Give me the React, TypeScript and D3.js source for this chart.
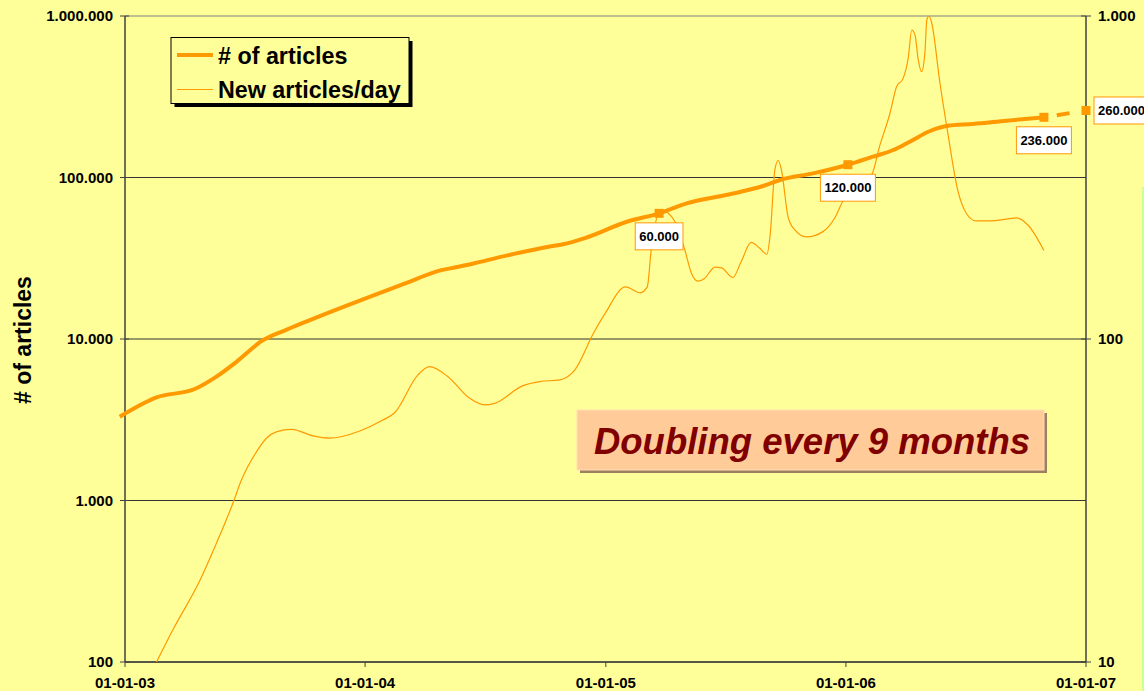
import React, { useEffect, useRef } from "react";
import * as d3 from "d3";

const WIDTH = 1144;
const HEIGHT = 691;

// # of articles (left axis)
const articleDates = [
  "2002-12-24", "2003-02-18", "2003-04-17", "2003-05-20", "2003-06-19", "2003-07-30",
  "2003-09-03", "2003-10-09", "2004-02-04", "2004-03-02", "2004-04-26", "2004-05-18",
  "2004-06-19", "2004-08-12", "2004-10-06", "2004-10-28", "2004-11-29", "2005-02-02",
  "2005-03-23", "2005-05-04", "2005-06-19", "2005-07-19", "2005-08-28", "2005-09-23",
  "2005-11-12", "2006-01-04", "2006-02-11", "2006-03-14", "2006-04-08", "2006-05-09",
  "2006-06-03", "2006-07-13", "2006-09-02", "2006-10-29",
];
const articleCounts = [
  3300, 4350, 4900, 5850, 7200, 9850,
  11400, 13100, 20100, 22100, 26700, 27800,
  29700, 33500, 37300, 38600, 42000, 53200,
  60000, 69200, 76000, 80500, 88600, 96500,
  106000, 120000, 134500, 148000, 166600, 194100,
  208400, 214400, 224700, 236000,
];

// dashed projection to year end
const projectionDates = ["2006-10-29", "2007-01-01"];
const projectionCounts = [236000, 260000];

// labelled milestones
const milestoneDates = ["2005-03-23", "2006-01-04", "2006-10-29", "2007-01-01"];
const milestoneCounts = [60000, 120000, 236000, 260000];

// new articles per day (right axis)
const newDates = [
  "2003-02-18", "2003-03-15", "2003-04-25", "2003-05-20", "2003-06-14", "2003-06-27",
  "2003-07-20", "2003-08-04", "2003-08-19", "2003-09-11", "2003-10-14", "2003-11-08",
  "2003-12-24", "2004-01-28", "2004-02-15", "2004-03-21", "2004-04-08", "2004-05-06",
  "2004-06-08", "2004-07-01", "2004-07-16", "2004-08-28", "2004-09-22", "2004-10-23",
  "2004-11-15", "2004-12-13", "2004-12-31", "2005-01-31", "2005-02-22", "2005-03-05",
  "2005-03-11", "2005-03-26", "2005-04-16", "2005-05-01", "2005-05-11", "2005-05-21",
  "2005-05-31", "2005-06-16", "2005-06-26", "2005-07-13", "2005-07-26", "2005-08-10",
  "2005-08-23", "2005-09-03", "2005-09-08", "2005-09-15", "2005-09-20", "2005-09-25",
  "2005-10-05", "2005-10-15", "2005-11-02", "2005-11-27", "2005-12-15", "2005-12-28",
  "2006-01-16", "2006-02-09", "2006-02-21", "2006-03-09", "2006-03-19", "2006-03-29",
  "2006-04-06", "2006-04-11", "2006-04-16", "2006-04-21", "2006-04-26", "2006-05-01",
  "2006-05-04", "2006-05-07", "2006-05-11", "2006-05-24", "2006-06-05", "2006-06-20",
  "2006-07-03", "2006-07-18", "2006-08-07", "2006-09-02", "2006-09-17", "2006-10-05",
  "2006-10-29",
];
const newPerDay = [
  10, 12.6, 17.9, 23.3, 31, 36.6,
  44.8, 49.3, 51.6, 52.5, 50.1, 49.3,
  51.9, 56.1, 59.1, 77.3, 82.1, 76.4,
  65.5, 62.5, 63.2, 71.7, 73.8, 74.7,
  80.2, 104, 120, 145, 139, 145,
  189, 251, 231, 189, 160, 151,
  154, 167, 166, 155, 174, 199,
  191, 183, 212, 334, 357, 334,
  239, 218, 207, 215, 237, 269,
  300, 322, 394, 500, 604, 641,
  748, 905, 873, 731, 672, 766,
  972, 1000, 960, 619, 433, 289,
  245, 232, 232, 235, 237, 225,
  188,
];

const leftTicks = [100, 1000, 10000, 100000, 1000000];
const rightTicks = [10, 100, 1000];
const xTickDates = ["2003-01-01", "2004-01-01", "2005-01-01", "2006-01-01", "2007-01-01"];

const ORANGE = "#FF9900";
const FONT = "'Liberation Sans', Arial, sans-serif";

export default function App() {
  const svgRef = useRef<SVGSVGElement | null>(null);

  useEffect(() => {
    document.body.style.margin = "0";
    if (!svgRef.current) return;
    const svg = d3.select(svgRef.current);
    svg.selectAll("*").remove();

    const parse = d3.timeParse("%Y-%m-%d");
    const plot = { left: 125, right: 1086, top: 16, bottom: 662 };

    const x = d3
      .scaleTime()
      .domain([parse("2003-01-01")!, parse("2007-01-01")!])
      .range([plot.left, plot.right]);
    const yLeft = d3.scaleLog().domain([100, 1e6]).range([plot.bottom, plot.top]);
    const yRight = d3.scaleLog().domain([10, 1000]).range([plot.bottom, plot.top]);

    const dotted = d3.formatLocale({
      decimal: ",",
      thousands: ".",
      grouping: [3],
      currency: ["", ""],
    }).format(",d");

    // background
    svg.append("rect").attr("width", WIDTH).attr("height", HEIGHT).attr("fill", "#FFFF99");
    svg.append("rect")
      .attr("x", 1142).attr("y", 187).attr("width", 2).attr("height", HEIGHT - 187)
      .attr("fill", "#CCFF99");

    svg.append("defs").append("clipPath").attr("id", "plot-clip")
      .append("rect")
      .attr("x", plot.left).attr("y", plot.top)
      .attr("width", plot.right - plot.left).attr("height", plot.bottom - plot.top);

    // gridlines
    svg.selectAll(".grid")
      .data(leftTicks)
      .enter()
      .append("line")
      .attr("x1", plot.left)
      .attr("x2", plot.right)
      .attr("y1", (d) => yLeft(d))
      .attr("y2", (d) => yLeft(d))
      .attr("stroke", (d) => (d === 1e6 ? "#808080" : "#333"))
      .attr("stroke-width", 1);

    // axes lines
    const axisColor = "#404040";
    svg.append("line")
      .attr("x1", plot.left).attr("x2", plot.left)
      .attr("y1", plot.top).attr("y2", plot.bottom)
      .attr("stroke", axisColor).attr("stroke-width", 1.5);
    svg.append("line")
      .attr("x1", plot.right).attr("x2", plot.right)
      .attr("y1", plot.top).attr("y2", plot.bottom)
      .attr("stroke", axisColor).attr("stroke-width", 1.5);
    svg.append("line")
      .attr("x1", plot.left).attr("x2", plot.right)
      .attr("y1", plot.bottom).attr("y2", plot.bottom)
      .attr("stroke", axisColor).attr("stroke-width", 1.5);

    // left ticks + labels
    leftTicks.forEach((t) => {
      const y = yLeft(t);
      svg.append("line")
        .attr("x1", plot.left - 5).attr("x2", plot.left + 4)
        .attr("y1", y).attr("y2", y)
        .attr("stroke", axisColor).attr("stroke-width", 1);
      svg.append("text")
        .attr("x", 113).attr("y", y)
        .attr("dy", "0.35em")
        .attr("text-anchor", "end")
        .style("font-family", FONT).style("font-size", "15px").style("font-weight", "bold")
        .text(dotted(t));
    });

    // right ticks + labels
    rightTicks.forEach((t) => {
      const y = yRight(t);
      svg.append("line")
        .attr("x1", plot.right - 5).attr("x2", plot.right + 5)
        .attr("y1", y).attr("y2", y)
        .attr("stroke", axisColor).attr("stroke-width", 1);
      svg.append("text")
        .attr("x", 1098).attr("y", y)
        .attr("dy", "0.35em")
        .attr("text-anchor", "start")
        .style("font-family", FONT).style("font-size", "15px").style("font-weight", "bold")
        .text(dotted(t));
    });

    // x ticks + labels
    const fmtX = d3.timeFormat("%d-%m-%y");
    xTickDates.map((s) => parse(s)!).forEach((d) => {
      const xx = x(d);
      svg.append("line")
        .attr("x1", xx).attr("x2", xx)
        .attr("y1", plot.bottom).attr("y2", plot.bottom + 5)
        .attr("stroke", axisColor).attr("stroke-width", 1);
      svg.append("text")
        .attr("x", xx).attr("y", 688)
        .attr("text-anchor", "middle")
        .style("font-family", FONT).style("font-size", "15px").style("font-weight", "bold")
        .text(fmtX(d));
    });

    // y axis title
    svg.append("text")
      .attr("transform", "translate(31, 340) rotate(-90)")
      .attr("text-anchor", "middle")
      .style("font-family", FONT).style("font-size", "23px").style("font-weight", "bold")
      .text("# of articles");

    const lines = svg.append("g").attr("clip-path", "url(#plot-clip)");

    // new articles / day
    const newData = newDates.map((s, i) => ({ date: parse(s)!, value: newPerDay[i] }));
    const newLine = d3
      .line<{ date: Date; value: number }>()
      .x((d) => x(d.date))
      .y((d) => yRight(d.value))
      .curve(d3.curveMonotoneX);
    lines.append("path")
      .datum(newData)
      .attr("d", newLine)
      .attr("fill", "none")
      .attr("stroke", ORANGE)
      .attr("stroke-width", 1.2);

    // # of articles
    const artData = articleDates.map((s, i) => ({ date: parse(s)!, value: articleCounts[i] }));
    const artLine = d3
      .line<{ date: Date; value: number }>()
      .x((d) => x(d.date))
      .y((d) => yLeft(d.value))
      .curve(d3.curveMonotoneX);
    svg.append("path")
      .datum(artData)
      .attr("d", artLine)
      .attr("fill", "none")
      .attr("stroke", ORANGE)
      .attr("stroke-width", 4)
      .attr("stroke-linejoin", "round");

    const projData = projectionDates.map((s, i) => ({ date: parse(s)!, value: projectionCounts[i] }));
    svg.append("path")
      .datum(projData)
      .attr("d", d3.line<{ date: Date; value: number }>().x((d) => x(d.date)).y((d) => yLeft(d.value)))
      .attr("fill", "none")
      .attr("stroke", ORANGE)
      .attr("stroke-width", 4)
      .attr("stroke-dasharray", "0,13,13,100");

    // milestone markers + labels
    const msData = milestoneDates.map((s, i) => ({ date: parse(s)!, value: milestoneCounts[i] }));
    msData.forEach((d, i) => {
      const mx = x(d.date);
      const my = yLeft(d.value);
      svg.append("rect")
        .attr("x", mx - 4.5).attr("y", my - 4.5)
        .attr("width", 9).attr("height", 9)
        .attr("fill", ORANGE);

      const last = i === msData.length - 1;
      const g = svg.append("g");
      const rect = g.append("rect").attr("fill", "#fff").attr("stroke", ORANGE).attr("stroke-width", 1);
      const txt = g.append("text")
        .style("font-family", FONT).style("font-size", "13px").style("font-weight", "bold")
        .attr("dy", "0.35em")
        .text(dotted(d.value));
      const w = (txt.node() as SVGTextElement).getComputedTextLength() + 8;
      const h = 27;
      let bx: number, by: number;
      if (last) {
        bx = mx + 8;
        by = my - h / 2;
      } else {
        bx = mx - w / 2;
        by = my + 9.5;
      }
      rect.attr("x", bx).attr("y", by).attr("width", w).attr("height", h);
      txt.attr("x", bx + 4).attr("y", by + h / 2);
    });

    // legend
    const lg = svg.append("g");
    lg.append("rect").attr("x", 174.5).attr("y", 41).attr("width", 238).attr("height", 66).attr("fill", "#000");
    lg.append("rect").attr("x", 171).attr("y", 37.5).attr("width", 238).attr("height", 66)
      .attr("fill", "#FFFF99").attr("stroke", "#000").attr("stroke-width", 1);
    lg.append("line").attr("x1", 177).attr("x2", 213).attr("y1", 55).attr("y2", 55)
      .attr("stroke", ORANGE).attr("stroke-width", 4);
    lg.append("line").attr("x1", 177).attr("x2", 213).attr("y1", 89.5).attr("y2", 89.5)
      .attr("stroke", ORANGE).attr("stroke-width", 1.2);
    lg.append("text").attr("x", 218).attr("y", 64)
      .style("font-family", FONT).style("font-size", "23.3px").style("font-weight", "bold")
      .text("# of articles");
    lg.append("text").attr("x", 218).attr("y", 97.5)
      .style("font-family", FONT).style("font-size", "23.3px").style("font-weight", "bold")
      .text("New articles/day");

    // annotation box
    const ann = svg.append("g");
    ann.append("rect").attr("x", 580).attr("y", 413).attr("width", 467).attr("height", 60).attr("fill", "#9E7F5F");
    ann.append("rect").attr("x", 577).attr("y", 410).attr("width", 467).attr("height", 60)
      .attr("fill", "#FFCC99").attr("stroke", "#FFE0B8").attr("stroke-width", 1);
    ann.append("text")
      .attr("x", 812).attr("y", 454)
      .attr("text-anchor", "middle")
      .attr("fill", "#800000")
      .style("font-family", FONT).style("font-size", "36.5px")
      .style("font-weight", "bold").style("font-style", "italic")
      .text("Doubling every 9 months");
  }, []);

  return (
    <svg
      ref={svgRef}
      width={WIDTH}
      height={HEIGHT}
      style={{ display: "block", position: "absolute", left: 0, top: 0 }}
    />
  );
}
